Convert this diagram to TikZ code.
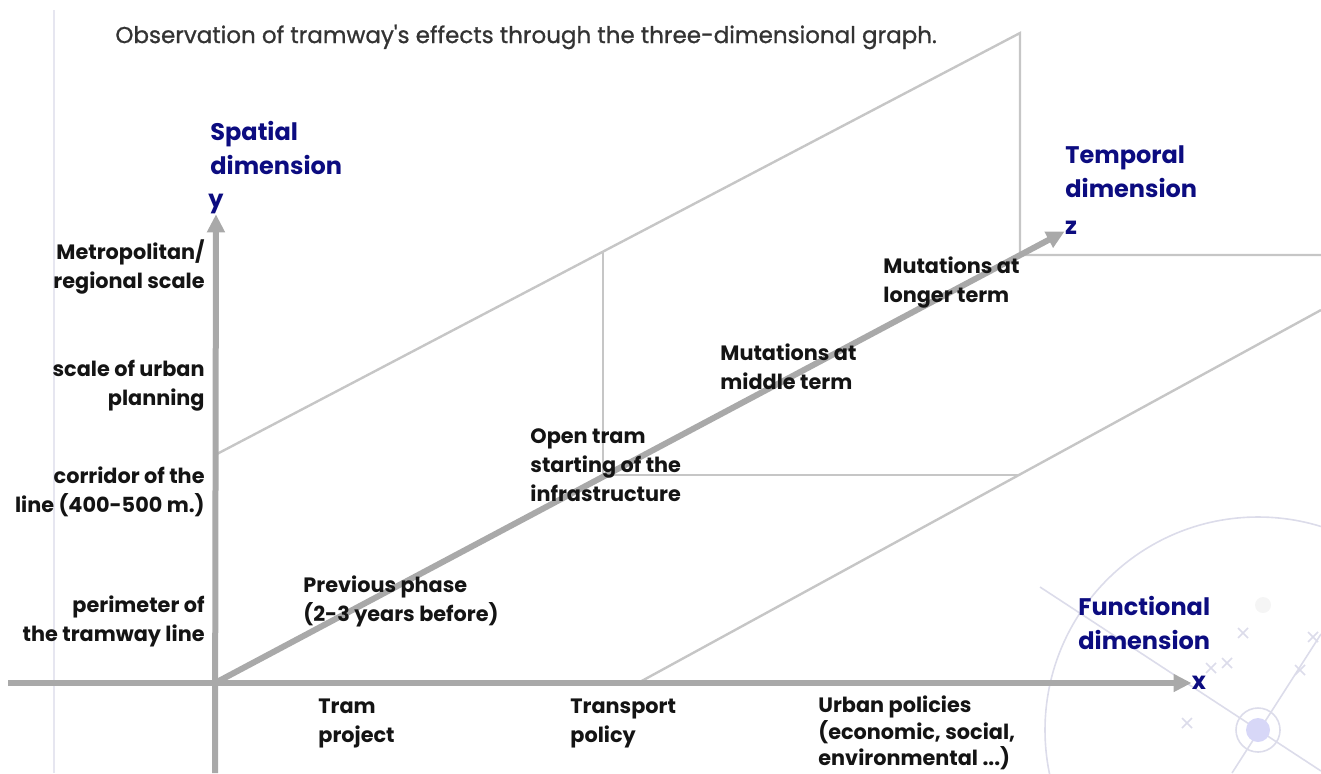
\documentclass[tikz,border=0pt]{standalone}
\usepackage{fontspec}
\setmainfont{Poppins}
\newfontfamily\titlefont[FakeBold=0.9]{Poppins}
\usetikzlibrary{arrows.meta}
\definecolor{axisgray}{HTML}{A9A9A9}
\definecolor{linegray}{HTML}{C6C6C6}
\definecolor{dimblue}{HTML}{0C0C80}
\definecolor{titlegray}{HTML}{333333}
\definecolor{wmarkcol}{HTML}{DCDCEA}
\begin{document}
\begin{tikzpicture}[x=0.5pt,y=-0.5pt]
		\tikzstyle{axis}=[draw=axisgray,line width=3pt,-{Triangle[length=9pt,width=8.5pt]}]
		\tikzstyle{frame}=[draw=linegray,line width=1.2pt]
		\tikzstyle{level}=[inner sep=0pt,text=black!92,font=\bfseries\fontsize{10.4}{14.5}\selectfont]
		\tikzstyle{dimension}=[inner sep=0pt,align=left,text=dimblue,font=\bfseries\fontsize{12}{17}\selectfont]
		\tikzstyle{wmark}=[draw=wmarkcol,line width=0.8pt]
		\useasboundingbox (0,0) rectangle (1321,773);
		\clip (0,0) rectangle (1321,773);
		\begin{scope}
			\draw[wmark,draw=wmarkcol!70] (54,10) -- (54,773);
			\draw[wmark] (1258,730) circle[radius=106.5pt];
			\draw[wmark] (1040,587) -- (1321,771);
			\draw[wmark] (1232,773) -- (1321,634);
			\draw[wmark] (1258,730) circle[radius=11pt];
			\fill[wmarkcol!80!blue!50] (1258,730) circle[radius=6pt];
			\fill[black!4] (1263,605) circle[radius=4pt];
			\foreach \p in {(1243,633),(1227,663),(1300,670),(1187,723),(1313,637),(1211,668)}
				\draw[wmark] \p ++(-5,-5) -- ++(10,10) \p ++(-5,5) -- ++(10,-10);
		\end{scope}
		\begin{scope}
			\node [anchor=west,inner sep=0pt,text=titlegray,font=\titlefont\fontsize{11.5}{14}\selectfont] (title) at (115,37) {Observation of tramway\textquotesingle s effects through the three-dimensional graph.};
			\coordinate (O) at (215,683);
			\coordinate (xs) at (8,683);
			\coordinate (ys) at (215,773);
			\coordinate (ytop) at (215,455);
			\coordinate (t1top) at (603,252);
			\coordinate (t1) at (603,475);
			\coordinate (t1r) at (1019,475);
			\coordinate (t2top) at (1020,33);
			\coordinate (t2) at (1020,255);
			\coordinate (t2r) at (1321,255);
			\coordinate (xmid) at (638,683);
			\coordinate (xr) at (1321,310);
			\node [dimension] (ylab) at (216,204) {y};
			\node [dimension] (zlab) at (1071,228) {z};
			\node [dimension] (xlab) at (1199,683) {x};
			\node [dimension,anchor=west] (spatial) at (210,148) {Spatial\\dimension};
			\node [dimension,anchor=west] (temporal) at (1065,172) {Temporal\\dimension};
			\node [dimension,anchor=west] (functional) at (1078,623) {Functional\\dimension};
			\draw[frame] (ytop) -- (t2top) -- (t2) -- (t2r);
			\draw[frame] (t1top) -- (t1) -- (t1r);
			\draw[frame] (xmid) -- (xr);
			\draw[axis] (xs) -- (xlab);
			\draw[axis] (ys) -- (ylab);
			\draw[axis] (O) -- (zlab);
			\node [level,anchor=east,align=right] (metro) at (205,267) {Metropolitan/\\regional scale};
			\node [level,anchor=east,align=right] (urban) at (205,386) {scale of urban\\planning};
			\node [level,anchor=east,align=right] (corridor) at (205,492) {corridor of the\\line (400-500 m.)};
			\node [level,anchor=east,align=right] (perimeter) at (205,621) {perimeter of\\the tramway line};
			\node [level,anchor=west,align=left] (previous) at (303,601) {Previous phase\\(2-3 years before)};
			\node [level,anchor=west,align=left] (opentram) at (530,465) {Open tram\\starting of the\\infrastructure};
			\node [level,anchor=west,align=left] (middle) at (720,367) {Mutations at\\middle term};
			\node [level,anchor=west,align=left] (longer) at (883,283) {Mutations at\\longer term};
			\node [level,anchor=west,align=left] (tramproj) at (318,723) {Tram\\project};
			\node [level,anchor=west,align=left] (transport) at (570,723) {Transport\\policy};
			\node [level,anchor=west,align=left,font=\bfseries\fontsize{10.4}{13.3}\selectfont] (urbanpol) at (818,733) {Urban policies\\(economic, social,\\environmental ...)};
		\end{scope}
\end{tikzpicture}
\end{document}
